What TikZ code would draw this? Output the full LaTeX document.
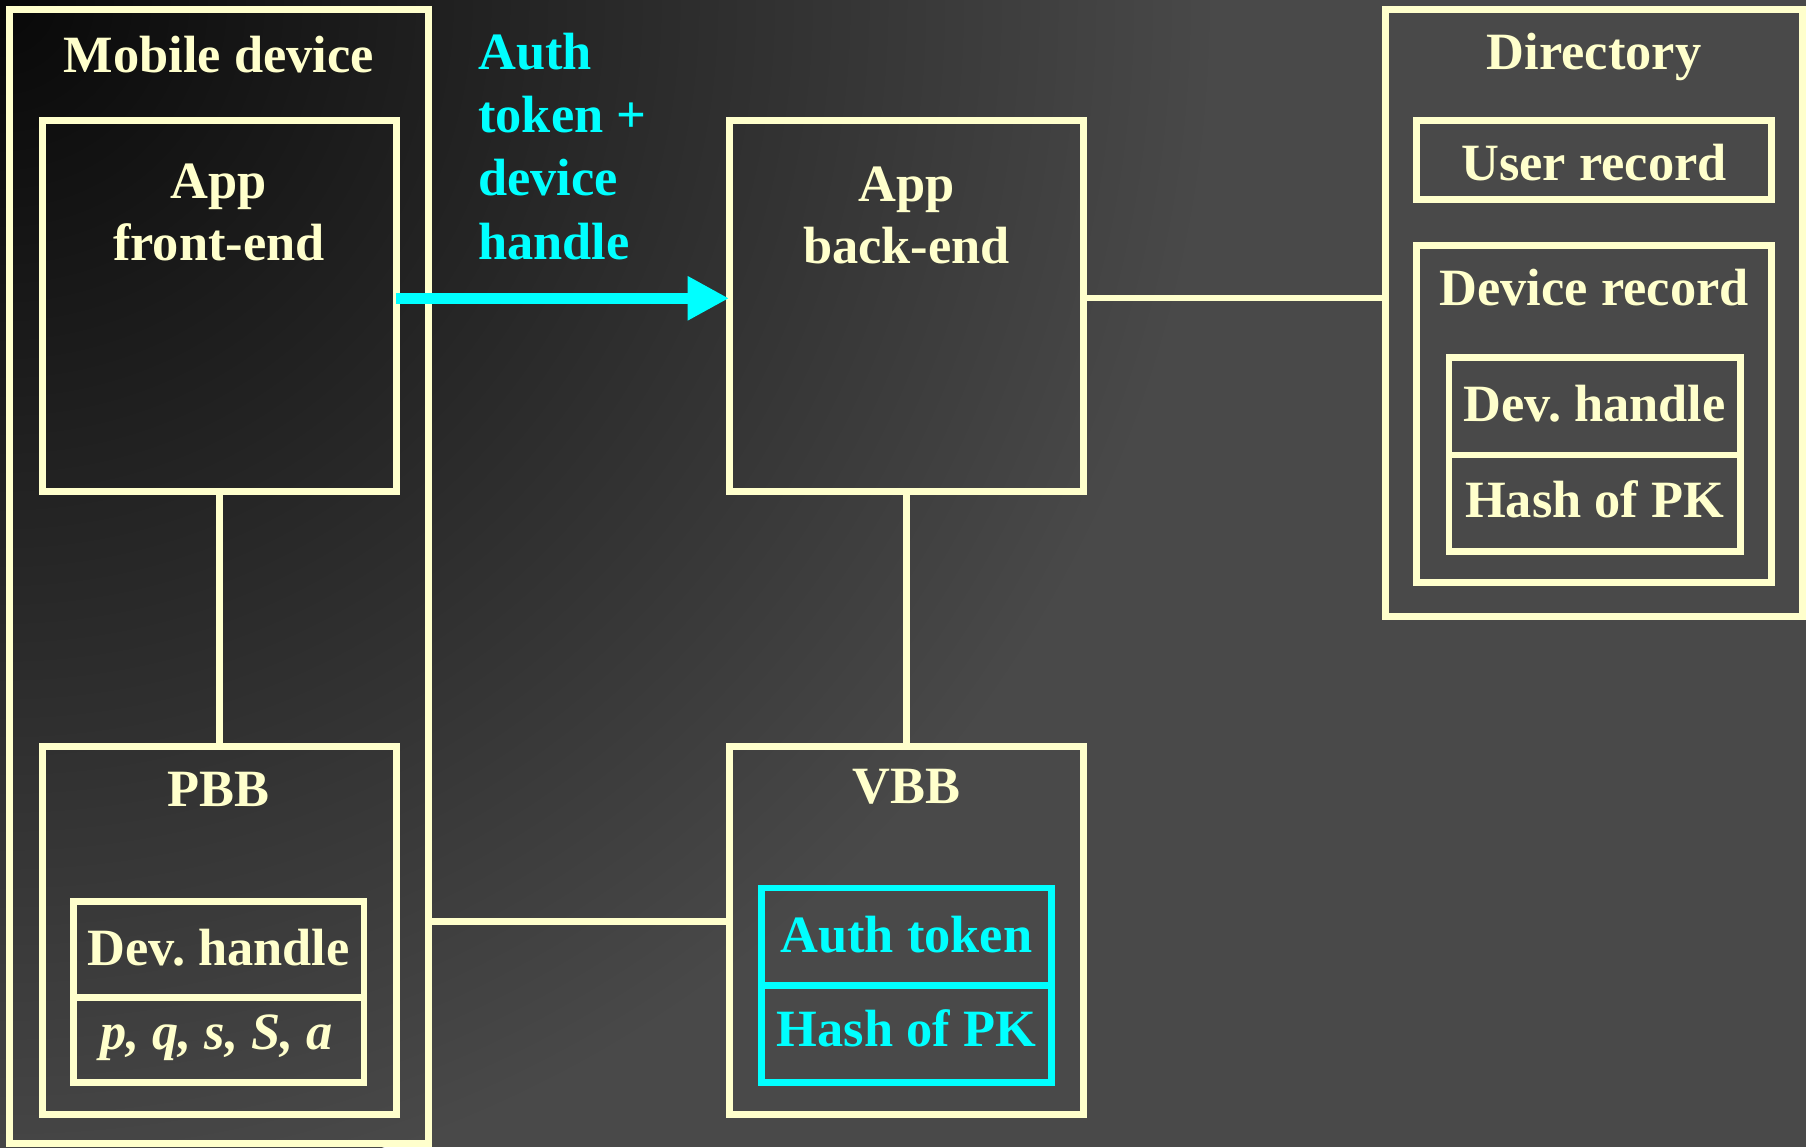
\documentclass[tikz,border=0pt]{standalone}
\usepackage{fontspec}
\setmainfont{Liberation Serif}
\usetikzlibrary{arrows.meta}
\definecolor{cream}{RGB}{255,255,204}
\definecolor{aqua}{RGB}{0,255,255}
\definecolor{bgfar}{RGB}{73,73,73}
\begin{document}
\begin{tikzpicture}[x=1pt,y=-1pt,
  box/.style={draw=#1, line width=6pt, rectangle, inner sep=0pt, outer sep=0pt},
  box/.default=cream,
  wire/.style={draw=cream, line width=5.5pt},
  lbl/.style={text=#1, font=\fontsize{45.5}{54}\selectfont\bfseries, inner sep=0pt, anchor=base},
  lbl/.default=cream,
  flow/.style={draw=aqua, line width=10pt, -{Triangle[length=36pt,width=36pt]}}
]
% background: grey that darkens towards the top-left corner
\useasboundingbox (0,0) rectangle (1568,996);
\begin{scope}
  \clip (0,0) rectangle (1568,996);
  \fill[bgfar] (0,0) rectangle (1568,996);
  \foreach \i in {0,...,63} {
    \pgfmathsetmacro\rr{16.40625*(64-\i)}
    \pgfmathtruncatemacro\gv{72-\i}
    \definecolor{ring}{RGB}{\gv,\gv,\gv}
    \fill[ring] (0,0) circle[radius=\rr];
  }
\end{scope}

% mobile device and its parts
\node[box, minimum width=364pt, minimum height=985pt] (mob) at (190,500.5) {};
\node[box, minimum width=307pt, minimum height=322pt] (fe) at (190.5,266) {};
\node[box, minimum width=307pt, minimum height=320pt] (pbb) at (190.5,808) {};
\node[box, minimum width=252pt, minimum height=83pt] (pdh) at (190,824.5) {};
\node[box, minimum width=252pt, minimum height=74pt] (pkeys) at (190,903) {};

% back-end and VBB
\node[box, minimum width=308pt, minimum height=322pt] (be) at (787,266) {};
\node[box, minimum width=308pt, minimum height=320pt] (vbb) at (787,808) {};
\node[box=aqua, minimum width=252pt, minimum height=85pt] (vtok) at (787,813.5) {};
\node[box=aqua, minimum width=252pt, minimum height=84pt] (vhash) at (787,898) {};

% directory
\node[box, minimum width=362pt, minimum height=527pt] (dir) at (1384,271.5) {};
\node[box, minimum width=308pt, minimum height=68pt] (urec) at (1384,139) {};
\node[box, minimum width=308pt, minimum height=293pt] (drec) at (1384,359.5) {};
\node[box, minimum width=253pt, minimum height=85pt] (ddh) at (1384.5,352.5) {};
\node[box, minimum width=253pt, minimum height=84pt] (dhash) at (1384.5,437) {};

% labels
\node[lbl] (tmob) at (190,63) {Mobile device};
\node[lbl] (tfe1) at (190,172) {App};
\node[lbl] (tfe2) at (190,226) {front-end};
\node[lbl] (tpbb) at (190,700) {PBB};
\node[lbl] (tpdh) at (190,838) {Dev.\ handle};
\node[lbl] (tpk) at (188,911) {\itshape p, q, s, S, a};

\node[lbl] (tbe1) at (787,175) {App};
\node[lbl] (tbe2) at (787,229) {back-end};
\node[lbl] (tvbb) at (787,698) {VBB};
\node[lbl=aqua] (tvtok) at (787,827) {Auth token};
\node[lbl=aqua] (tvhash) at (787,909) {Hash of PK};

\node[lbl] (tdir) at (1384,60) {Directory};
\node[lbl] (turec) at (1384,157) {User record};
\node[lbl] (tdrec) at (1384,265) {Device record};
\node[lbl] (tddh) at (1384.5,366) {Dev.\ handle};
\node[lbl] (tdhash) at (1384.5,449) {Hash of PK};

\node[lbl=aqua, anchor=base west] (tm1) at (415,60) {Auth};
\node[lbl=aqua, anchor=base west] (tm2) at (415,115) {token +};
\node[lbl=aqua, anchor=base west] (tm3) at (415,170) {device};
\node[lbl=aqua, anchor=base west] (tm4) at (415,225) {handle};

% connectors
\path ([yshift=7pt]fe.east) coordinate (fa);
\path ([yshift=8pt]vbb.west) coordinate (vj);
\path ([yshift=7pt]be.east) coordinate (bj);
\draw[wire] (fe.south) -- (pbb.north);
\draw[wire] (be.south) -- (vbb.north);
\draw[wire] (vj -| mob.east) -- (vj);
\draw[wire] (bj) -- (bj -| dir.west);
\draw[flow] (fa) -- (fa -| be.west);
\end{tikzpicture}
\end{document}
